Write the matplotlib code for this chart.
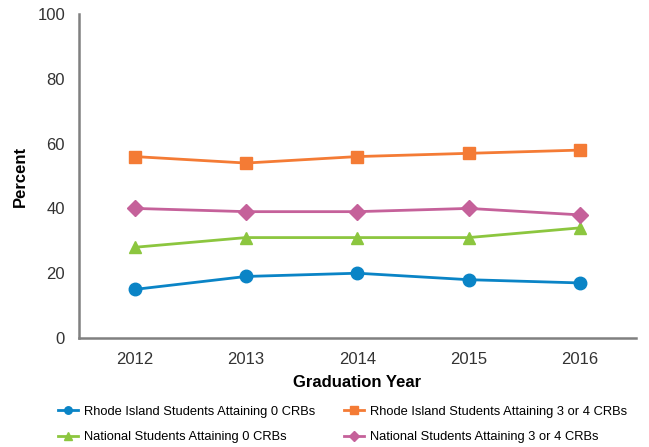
import numpy as np
import matplotlib
matplotlib.use("Agg")
import matplotlib.pyplot as plt

plt.rcParams['font.family'] = ['Liberation Sans', 'DejaVu Sans']

years = ['2012', '2013', '2014', '2015', '2016']
ri_zero = [15, 19, 20, 18, 17]
ri_three = [56, 54, 56, 57, 58]
nat_zero = [28, 31, 31, 31, 34]
nat_three = [40, 39, 39, 40, 38]

labels = ['Rhode Island Students Attaining 0 CRBs',
          'Rhode Island Students Attaining 3 or 4 CRBs',
          'National Students Attaining 0 CRBs',
          'National Students Attaining 3 or 4 CRBs']
colors = ['#0A84C6', '#F47B35', '#8CC63F', '#C5619A']
markers = ['o', 's', '^', 'D']
sizes = [9, 9, 9, 8]

fig = plt.figure(figsize=(6.49, 4.47), dpi=100)
ax = fig.add_axes([0.1217, 0.2438, 0.858, 0.7249])

x = np.arange(len(years))
lines = []
for vals, lab, c, m, s in zip([ri_zero, ri_three, nat_zero, nat_three], labels, colors, markers, sizes):
    ln, = ax.plot(x, vals, color=c, marker=m, markersize=s, linewidth=2, label=lab)
    lines.append(ln)

ax.set_xlim(-0.5, len(years) - 0.5)
ax.set_ylim(0, 100)
ax.set_xticks(x)
ax.set_xticklabels(years)
ax.set_yticks(range(0, 101, 20))
ax.tick_params(length=0, labelsize=12, colors='#333333', pad=10)
for s in ['top', 'right']:
    ax.spines[s].set_visible(False)
for s in ['left', 'bottom']:
    ax.spines[s].set_color('#808080')
    ax.spines[s].set_linewidth(1.8)

ax.set_xlabel('Graduation Year', fontsize=12, fontweight='bold', labelpad=6)
ax.set_ylabel('Percent', fontsize=12, fontweight='bold', labelpad=7)

# order so rows read: RI 0, RI 3/4 / National 0, National 3/4
order = [0, 2, 1, 3]
fig.legend([lines[i] for i in order], [labels[i] for i in order],
           loc='lower left', bbox_to_anchor=(0.072, -0.018), ncol=2, frameon=False,
           fontsize=9.3, markerscale=0.6, handlelength=1.5, columnspacing=2.3,
           handletextpad=0.45, labelspacing=1.05)

fig.savefig('out.png', dpi=100)
